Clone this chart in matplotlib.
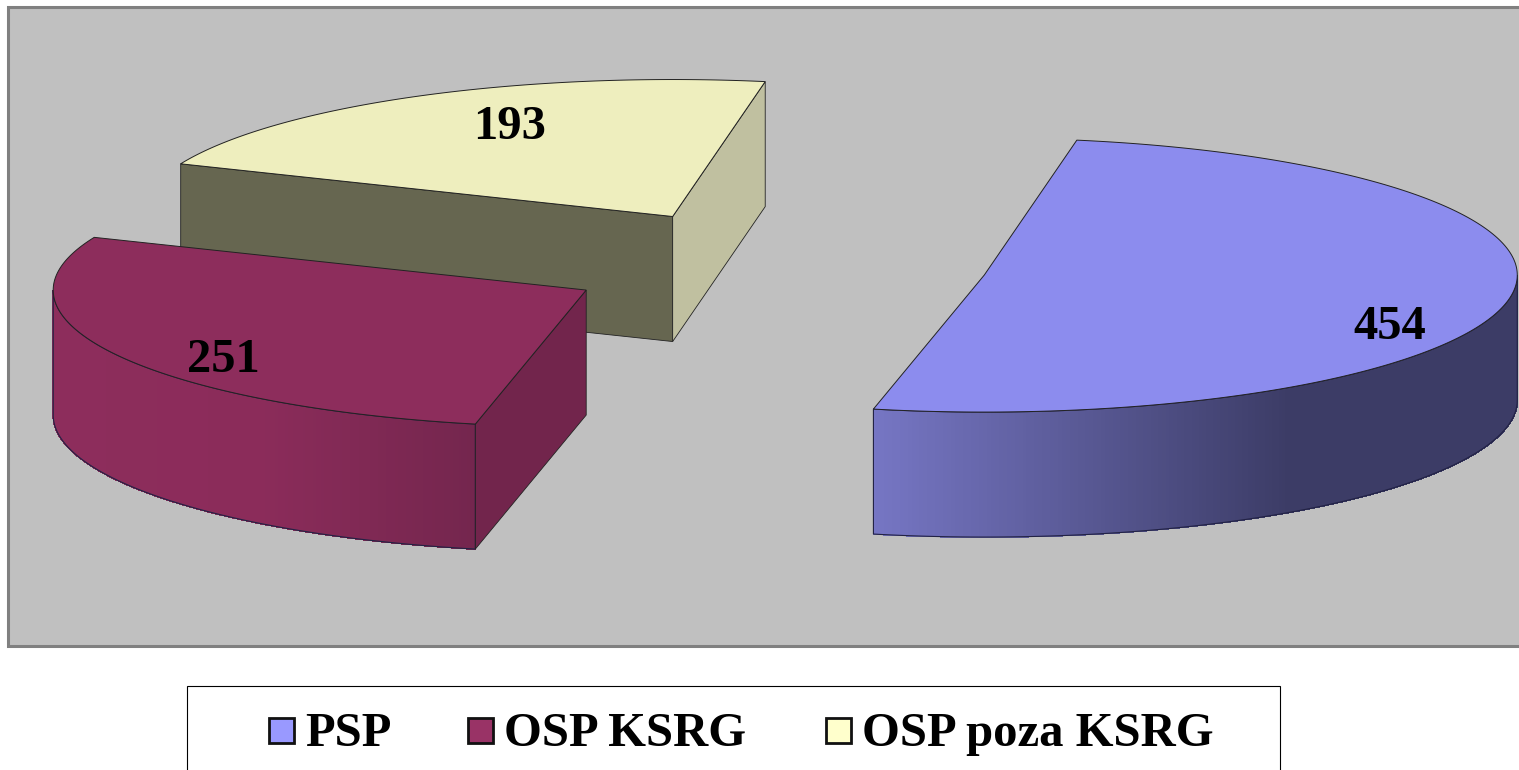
import numpy as np
import matplotlib
matplotlib.use('Agg')
import matplotlib.pyplot as plt
from matplotlib.patches import Polygon, Rectangle

labels = ['PSP', 'OSP KSRG', 'OSP poza KSRG']
values = [454, 251, 193]
legend_colors = ['#9999ff', '#993366', '#ffffcc']
top_colors = ['#8c8cee', '#8d2d5c', '#eeeebe']

# pie geometry in image pixels
cx, cy = 775, 264.6
rx, ry = 533, 137
depth = 125
explode = 0.4
start = 80

plt.rcParams['font.family'] = ['Liberation Serif', 'DejaVu Sans']
fig = plt.figure(figsize=(15.19, 7.70), dpi=100)
ax = fig.add_axes([0, 0, 1, 1])
ax.set_xlim(0, 1519)
ax.set_ylim(770, 0)
ax.axis('off')

ax.add_patch(Rectangle((8, 7), 1530, 639, fc='#c0c0c0', ec='#808080', lw=2.2))


def rim(c, t):
    t = np.radians(t)
    return np.column_stack([c[0] + rx * np.cos(t), c[1] - ry * np.sin(t)])


def flat_face(c, t, color):
    # radial cut face of a slice, pushed down by depth
    p = rim(c, np.array([t]))[0]
    pts = [c, p, (p[0], p[1] + depth), (c[0], c[1] + depth)]
    ax.add_patch(Polygon(pts, fc=color, ec='#222222', lw=0.6))


def side(c, t0, t1, xs, cols):
    # outer wall, cut in thin strips so the shade can follow x
    ts = np.linspace(t0, t1, 240)
    pts = rim(c, ts)
    rgb = np.array([matplotlib.colors.to_rgb(k) for k in cols])
    for i in range(len(ts) - 1):
        a, b = pts[i], pts[i + 1]
        xm = (a[0] + b[0]) / 2
        col = [np.interp(xm, xs, rgb[:, j]) for j in range(3)]
        ax.add_patch(Polygon([a, b, (b[0], b[1] + depth), (a[0], a[1] + depth)],
                             fc=col, ec=col, lw=0.6, antialiased=False))
    outline = np.vstack([pts, pts[::-1] + [0, depth]])
    ax.add_patch(Polygon(outline, fill=False, ec='#222244', lw=0.8))


def top(c, t0, t1, color):
    ts = np.linspace(t0, t1, 240)
    pts = np.vstack([[c], rim(c, ts)])
    ax.add_patch(Polygon(pts, fc=color, ec='#222222', lw=0.7))


spans = np.array(values) / sum(values) * 360
ends = start - np.cumsum(spans)
starts = ends + spans
mids = (starts + ends) / 2
centers = [(cx + explode * rx * np.cos(np.radians(m)),
            cy - explode * ry * np.sin(np.radians(m))) for m in mids]

# back slice first
flat_face(centers[2], starts[2], '#666650')
flat_face(centers[2], ends[2], '#c0c0a0')
top(centers[2], starts[2], ends[2], top_colors[2])

side(centers[1], starts[1], -180, [53, 260, 475], ['#8d2d5c', '#8b2c5a', '#74264e'])
flat_face(centers[1], starts[1], '#72254c')
top(centers[1], starts[1], ends[1], top_colors[1])

side(centers[0], ends[0], 0, [875, 1290, 1520], ['#7676c4', '#3c3c66', '#3c3c66'])
top(centers[0], starts[0], ends[0], top_colors[0])

label_pos = [(1390, 327), (223, 360), (510, 127)]
for v, (x, y) in zip(values, label_pos):
    ax.text(x, y, str(v), fontsize=35, fontweight='bold', ha='center', va='center')

# legend, its box runs off the bottom of the picture
ax.add_patch(Rectangle((187, 686), 1093, 100, fc='white', ec='black', lw=0.8))
swatch_x = [269, 468, 826]
for name, col, x in zip(labels, legend_colors, swatch_x):
    ax.add_patch(Rectangle((x, 718), 25, 25, fc=col, ec='#111111', lw=2))
    ax.text(x + 36, 734, name, fontsize=35, fontweight='bold', ha='left', va='center')

fig.savefig('out.png', dpi=100)
